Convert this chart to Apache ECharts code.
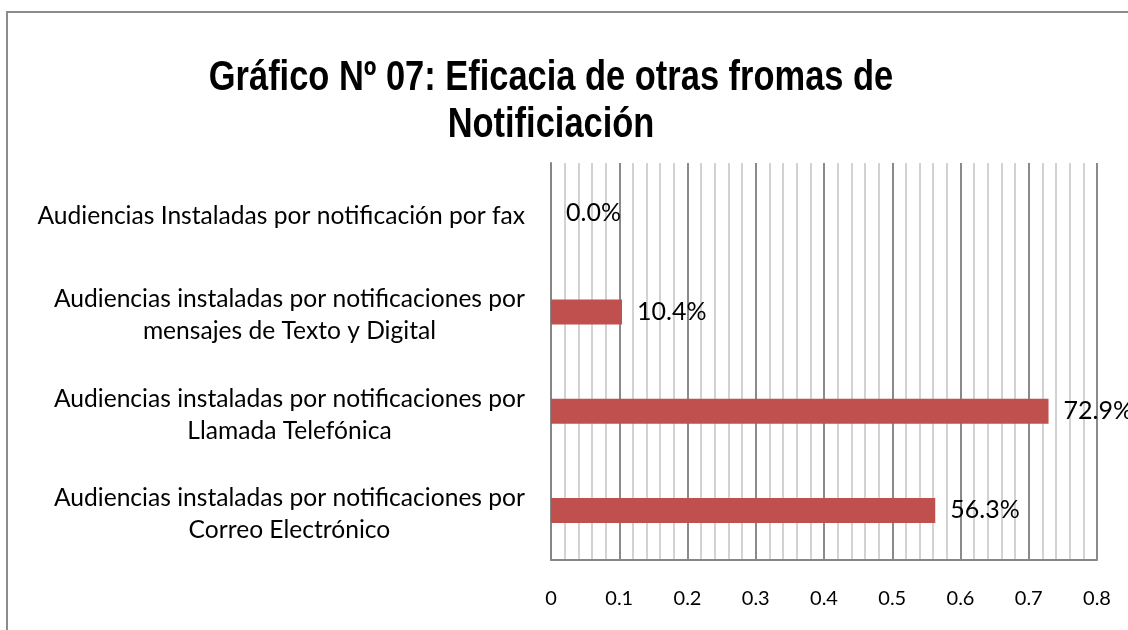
<!DOCTYPE html>
<html>
<head>
<meta charset="utf-8">
<title>Gráfico Nº 07</title>
<script src="https://cdn.jsdelivr.net/npm/echarts@6/dist/echarts.min.js"></script>
<style>
  html, body { margin: 0; padding: 0; background: #fff; }
  #grafico_07 { width: 1128px; height: 630px; }
</style>
</head>
<body>
<div id="grafico_07"></div>
<script>
  // datos (de abajo hacia arriba, como los dibuja el eje de categorías)
  const categorias = [
    'Audiencias instaladas por notificaciones por\nCorreo Electrónico',
    'Audiencias instaladas por notificaciones por\nLlamada Telefónica',
    'Audiencias instaladas por notificaciones por\nmensajes de Texto y Digital',
    'Audiencias Instaladas por notificación por fax'
  ];
  const valores = [0.563, 0.729, 0.104, 0];
  const ticksX = [0, 0.1, 0.2, 0.3, 0.4, 0.5, 0.6, 0.7, 0.8];
  const titulo = 'Gráfico Nº 07: Eficacia de otras fromas de\nNotificiación';

  const fuente = 'Lato, "Open Sans", sans-serif';

  const option = {
    animation: false,
    backgroundColor: '#fff',
    graphic: [
      {
        type: 'rect',
        shape: { x: 7, y: 12, width: 1200, height: 700 },
        style: { fill: 'none', stroke: '#8c8c8c', lineWidth: 2 },
        silent: true
      },
      {
        // título estrecho (tipo Arial Narrow)
        type: 'text',
        x: 551,
        y: 55,
        scaleX: 0.82,
        silent: true,
        style: {
          text: titulo,
          textAlign: 'center',
          textVerticalAlign: 'top',
          font: 'bold 42px "Liberation Sans", Arial, sans-serif',
          lineHeight: 47,
          fill: '#000'
        }
      }
    ],
    grid: {
      left: 551,
      right: 31,
      top: 163,
      bottom: 70,
      outerBoundsMode: 'none'
    },
    xAxis: {
      type: 'value',
      min: ticksX[0],
      max: ticksX[ticksX.length - 1],
      interval: 0.1,
      axisLine: {
        show: true,
        lineStyle: { color: '#868686', width: 2 }
      },
      axisTick: { show: false },
      axisLabel: {
        margin: 29,
        color: '#000',
        fontFamily: fuente,
        fontSize: 20,
        formatter: function (v) {
          return String(Math.round(v * 10) / 10);
        }
      },
      splitLine: {
        show: true,
        lineStyle: { color: '#8a8a8a', width: 2 }
      },
      minorTick: { show: false, splitNumber: 5 },
      minorSplitLine: {
        show: true,
        lineStyle: { color: '#c3c3c3', width: 1.5 }
      }
    },
    yAxis: {
      type: 'category',
      data: categorias,
      axisLine: {
        show: true,
        lineStyle: { color: '#868686', width: 2 }
      },
      axisTick: { show: false },
      splitLine: { show: false },
      axisLabel: {
        margin: 26,
        align: 'right',
        padding: [7, 0, 0, 0],
        formatter: function (v) {
          return v.split('\n').map(function (l) { return '{c|' + l + '}'; }).join('\n');
        },
        rich: {
          c: {
            align: 'center',
            fontFamily: fuente,
            fontSize: 24.6,
            lineHeight: 32,
            color: '#000'
          }
        }
      }
    },
    series: [
      {
        name: 'Eficacia',
        type: 'bar',
        data: valores,
        barWidth: 25,
        itemStyle: { color: '#c0504d' },
        label: {
          show: true,
          position: 'right',
          distance: 15,
          color: '#000',
          fontFamily: fuente,
          fontSize: 25,
          formatter: function (p) {
            return (p.value * 100).toFixed(1) + '%';
          }
        }
      }
    ]
  };

  const grafico = echarts.init(document.getElementById('grafico_07'));
  grafico.setOption(option);
  window.addEventListener('resize', function () {
    grafico.resize();
  });
</script>
</body>
</html>
